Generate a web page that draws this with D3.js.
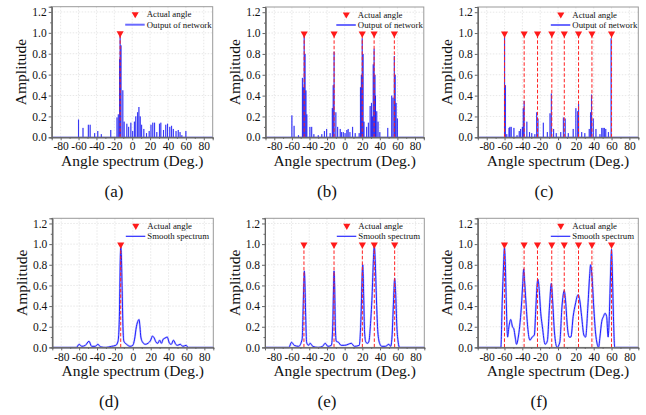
<!DOCTYPE html>
<html><head><meta charset="utf-8">
<script src="https://cdn.jsdelivr.net/npm/d3@7"></script>
<style>
html,body{margin:0;padding:0;background:#fff;}
svg{display:block;}
</style></head>
<body><svg id="chart" width="646" height="415"></svg>
<script>
const angleTicks = [-80,-60,-40,-20,0,20,40,60,80];
const ampTicks = [0,0.2,0.4,0.6,0.8,1.0,1.2];
const panelLabels = ["(a)","(b)","(c)","(d)","(e)","(f)"];
const legendActual = "Actual angle";
const legendNet = "Output of network";
const legendSmooth = "Smooth spectrum";

const actualA = [-13.5];
const actualB = [-46,-12,20,33.5,56.5];
const actualC = [-60,-38,-23,-7,7,23,38,60];

const netA = [[-60,0.17],[-55,0.09],[-49,0.12],[-47,0.12],[-42,0.04],[-38.5,0.06],[-34.5,0.03],[-24,0.07],[-17,0.19],[-15.5,0.22],[-14,0.75],[-13.5,1.0],[-12.5,0.88],[-10.5,0.45],[-9,0.15],[-6,0.13],[-4,0.1],[-1.5,0.14],[0.5,0.06],[2.5,0.15],[4,0.2],[6,0.24],[7.5,0.29],[9,0.2],[10.5,0.12],[13,0.08],[16,0.04],[19,0.06],[21,0.12],[23,0.14],[25,0.14],[27.5,0.05],[30.5,0.13],[32,0.14],[35,0.07],[37.5,0.12],[39.5,0.13],[42,0.1],[44,0.11],[46,0.08],[49,0.06],[51.5,0.07],[53.5,0.05],[55.5,0.02],[60,0.06]];

const netB = [[-60,0.21],[-57.5,0.11],[-52.5,0.02],[-48,0.57],[-47,0.48],[-46,1.0],[-45,0.8],[-44,0.45],[-43,0.22],[-39.5,0.1],[-37.5,0.1],[-35,0.03],[-30,0.02],[-26,0.03],[-23,0.06],[-20.5,0.08],[-16.5,0.04],[-14,0.28],[-13,0.5],[-12,0.82],[-10,0.24],[-8,0.1],[-5,0.08],[-3.5,0.05],[-1.5,0.05],[0.5,0.04],[2.5,0.07],[4,0.08],[6,0.05],[9,0.1],[12,0.04],[16.5,0.04],[18,0.48],[19,0.6],[20,0.95],[21,0.8],[22,0.15],[25,0.1],[27,0.14],[29,0.3],[30.5,0.33],[31.5,0.2],[32.5,0.7],[33.5,0.85],[34.5,0.6],[35,0.4],[36.5,0.25],[38,0.15],[40,0.05],[49,0.09],[53.5,0.4],[55,0.38],[56.5,0.78],[57.5,0.6],[58.5,0.33],[60,0.18]];

const netC = [[-60,1.0],[-59,0.5],[-57.5,0.03],[-55,0.09],[-54,0.1],[-52.5,0.1],[-49.5,0.09],[-46,0.02],[-43.5,0.06],[-42,0.08],[-40,0.1],[-39,0.28],[-38,0.35],[-35,0.15],[-32,0.05],[-29.5,0.04],[-26,0.03],[-24,0.24],[-22.5,0.18],[-16.5,0.14],[-12,0.05],[-9,0.23],[-7.5,0.42],[-5,0.08],[-2,0.04],[3,0.05],[6,0.19],[8,0.18],[11.5,0.04],[17,0.08],[20,0.28],[22,0.25],[23,0.32],[26.5,0.05],[30,0.04],[35,0.08],[36.5,0.24],[37.5,0.41],[39.5,0.18],[42.5,0.08],[47,0.03],[49,0.09],[50.5,0.09],[52,0.09],[53.5,0.08],[56.5,0.05],[59.5,0.95]];

const smoothD = [[-90,0],[-63,0],[-60,0.03],[-57,0.01],[-53,0.02],[-49,0.06],[-46,0.01],[-42,0.01],[-39,0.03],[-36,0.005],[-30,0],[-24,0.01],[-19,0.02],[-16.5,0.06],[-15,0.3],[-14,0.85],[-13.5,0.98],[-12.8,0.9],[-12,0.6],[-11,0.2],[-10,0.06],[-7,0.03],[-3,0.01],[0,0.02],[2,0.08],[4,0.2],[6,0.26],[7,0.27],[8,0.2],[9,0.1],[11,0.05],[14,0.03],[17,0.04],[20,0.07],[22,0.11],[24,0.09],[26,0.05],[28,0.04],[30,0.07],[32,0.04],[34,0.08],[36,0.09],[38.5,0.1],[41,0.04],[43,0.03],[45.5,0.07],[48,0.03],[50,0.02],[53,0.03],[56,0.01],[59.5,0.02],[62,0],[90,0]];

const smoothE = [[-90,0],[-63,0],[-60,0.05],[-57,0.02],[-52,0.01],[-48,0.08],[-47,0.35],[-46,0.65],[-45.5,0.74],[-45,0.65],[-44,0.3],[-43,0.05],[-41,0.02],[-39,0.04],[-36,0.01],[-30,0],[-25,0.01],[-22,0.04],[-19,0.01],[-15,0.02],[-13.5,0.2],[-12.5,0.6],[-12,0.74],[-11.3,0.6],[-10.5,0.2],[-9.5,0.06],[-7,0.05],[-4,0.02],[0,0.02],[4,0.03],[7.5,0.04],[11,0.01],[16.5,0.02],[18.5,0.3],[20,0.75],[20.5,0.8],[21.5,0.5],[22.5,0.15],[24,0.05],[26,0.04],[27.5,0.06],[29,0.2],[31,0.5],[32.5,0.85],[33.5,0.99],[34.5,0.85],[36,0.45],[37.5,0.15],[39.5,0.04],[42,0.01],[46,0.01],[50,0.03],[52,0.01],[53.5,0.1],[55,0.4],[56.5,0.67],[57.5,0.55],[59,0.2],[60.5,0.05],[62,0],[90,0]];

const smoothF = [[-90,0],[-64,0],[-62.5,0.45],[-61,0.8],[-60,0.97],[-59,0.8],[-58,0.45],[-56.5,0.1],[-55,0.2],[-53,0.27],[-51,0.2],[-49.5,0.18],[-48,0.1],[-46.5,0.03],[-44.5,0.1],[-43,0.2],[-41,0.4],[-39.5,0.62],[-38.5,0.76],[-37.5,0.65],[-36,0.45],[-34,0.2],[-31.5,0.07],[-29,0.1],[-26.5,0.12],[-25,0.35],[-23.5,0.6],[-22.5,0.66],[-21,0.55],[-19.5,0.35],[-17.5,0.2],[-14.5,0.03],[-12,0.06],[-9.5,0.4],[-7.5,0.62],[-6,0.45],[-4,0.15],[-1,0.0],[2,0.05],[4.5,0.4],[7,0.55],[8.5,0.45],[10.5,0.2],[12.5,0.1],[14.5,0.1],[17,0.3],[19.5,0.42],[22.5,0.51],[24.5,0.45],[26.5,0.3],[29,0.12],[31,0.1],[33.5,0.4],[35.5,0.7],[36.5,0.8],[38,0.7],[40,0.4],[42,0.15],[44,0.03],[45.5,0],[47,0.1],[49,0.25],[51,0.3],[52.7,0.33],[54.5,0.3],[56.2,0.1],[57.5,0.3],[59,0.75],[60,0.95],[61,0.7],[62.3,0.25],[63.5,0],[90,0]];

const FONT = "Liberation Serif, Tinos, Times New Roman, Times, DejaVu Serif, serif";

const panels = [
  {L:51.7, R:212.7, T:6.7, B:137.3, kind:"net", data:netA, actual:actualA, label:panelLabels[0], lx:114},
  {L:265.5, R:423.8, T:7, B:137.3, kind:"net", data:netB, actual:actualB, label:panelLabels[1], lx:327},
  {L:477.8, R:638.3, T:7, B:137.3, kind:"net", data:netC, actual:actualC, label:panelLabels[2], lx:544},
  {L:52.3, R:213.3, T:218.3, B:347.4, kind:"smooth", data:smoothD, actual:actualA, label:panelLabels[3], lx:109},
  {L:265, R:424.3, T:218.3, B:347.4, kind:"smooth", data:smoothE, actual:actualB, label:panelLabels[4], lx:327},
  {L:477.7, R:638.3, T:218.3, B:347.4, kind:"smooth", data:smoothF, actual:actualC, label:panelLabels[5], lx:539}
];

const svg = d3.select("#chart").attr("font-family", FONT);
const tri = d3.symbol().type(d3.symbolTriangle).size(22);
const txt = (sel, size) => sel.attr("font-family", FONT).attr("font-size", size).attr("fill", "#111");

panels.forEach(p => {
  const x = d3.scaleLinear().domain([-90,90]).range([p.L,p.R]);
  const y = d3.scaleLinear().domain([0,1.25]).range([p.B,p.T]);
  const g = svg.append("g");

  // grid
  g.append("g").selectAll("line").data(angleTicks).join("line")
    .attr("x1", d=>x(d)).attr("x2", d=>x(d)).attr("y1", p.T).attr("y2", p.B)
    .attr("stroke","#d8d8d8").attr("stroke-width",0.6).attr("stroke-dasharray","1.5,1.5");
  g.append("g").selectAll("line").data(ampTicks.filter(d=>d>0)).join("line")
    .attr("x1", p.L).attr("x2", p.R).attr("y1", d=>y(d)).attr("y2", d=>y(d))
    .attr("stroke","#d8d8d8").attr("stroke-width",0.6).attr("stroke-dasharray","1.5,1.5");

  // data
  if (p.kind === "net") {
    g.append("line").attr("x1",x(-90)).attr("x2",x(90)).attr("y1",y(0)).attr("y2",y(0))
      .attr("stroke","#2a2aff").attr("stroke-width",1.2);
    g.append("g").selectAll("rect").data(p.data).join("rect")
      .attr("x", d=>x(d[0]-0.7)).attr("width", x(1.4)-x(0))
      .attr("y", d=>y(d[1])).attr("height", d=>y(0)-y(d[1]))
      .attr("fill","#5a5aff").attr("fill-opacity",0.55);
    g.append("g").selectAll("line").data(p.data).join("line")
      .attr("x1", d=>x(d[0])).attr("x2", d=>x(d[0])).attr("y1", y(0)).attr("y2", d=>y(d[1]))
      .attr("stroke","#0000ee").attr("stroke-width",0.8).attr("stroke-opacity",0.85);
  } else {
    const line = d3.line().x(d=>x(d[0])).y(d=>y(d[1])).curve(d3.curveMonotoneX);
    g.append("path").datum(p.data).attr("d",line).attr("fill","none")
      .attr("stroke","#8888ff").attr("stroke-width",2).attr("stroke-opacity",0.5);
    g.append("path").datum(p.data).attr("d",line).attr("fill","none")
      .attr("stroke","#1e1eff").attr("stroke-width",1);
  }

  // actual angle dashed lines and markers
  g.append("g").selectAll("line").data(p.actual).join("line")
    .attr("x1", d=>x(d)).attr("x2", d=>x(d)).attr("y1", y(0)).attr("y2", y(1))
    .attr("stroke","#ff2020").attr("stroke-width",1).attr("stroke-dasharray","3.5,2");
  g.append("g").selectAll("path").data(p.actual).join("path")
    .attr("d", tri).attr("fill","#ff1a1a")
    .attr("transform", d=>`translate(${x(d)},${y(1)+0.5}) rotate(180)`);

  // frame
  g.append("rect").attr("x",p.L).attr("y",p.T).attr("width",p.R-p.L).attr("height",p.B-p.T)
    .attr("fill","none").attr("stroke","#999").attr("stroke-width",1);

  // axes
  const xAxis = d3.axisBottom(x).tickValues(angleTicks).tickSize(3).tickPadding(2).tickFormat(d => String(d));
  const xa = g.append("g").attr("transform",`translate(0,${p.B})`).call(xAxis);
  const xMinor = g.append("g").attr("transform",`translate(0,${p.B})`)
    .call(d3.axisBottom(x).tickValues(d3.range(-90,91,10).filter(v=>v%20!==0)).tickSize(1.5).tickFormat(""));
  const yAxis = d3.axisLeft(y).tickValues(ampTicks).tickSize(3).tickPadding(2).tickFormat(d3.format(".1f"));
  const ya = g.append("g").attr("transform",`translate(${p.L},0)`).call(yAxis);
  const yMinor = g.append("g").attr("transform",`translate(${p.L},0)`)
    .call(d3.axisLeft(y).tickValues([0.1,0.3,0.5,0.7,0.9,1.1]).tickSize(1.5).tickFormat(""));
  [xa,ya,xMinor,yMinor].forEach(a=>{
    a.attr("font-family", FONT).attr("font-size", 11.5);
    a.select(".domain").attr("stroke","#666");
    a.selectAll(".tick line").attr("stroke","#666");
    a.selectAll("text").call(txt, 11.5);
  });

  // titles
  svg.append("text").attr("x",(p.L+p.R)/2).attr("y",p.B+29).attr("text-anchor","middle")
    .call(txt, 15.5).text("Angle spectrum (Deg.)");
  svg.append("text").attr("transform",`translate(${p.L-25.5},${(p.T+p.B)/2}) rotate(-90)`)
    .attr("text-anchor","middle").call(txt, 15.5).text("Amplitude");
  svg.append("text").attr("x",p.lx).attr("y",p.B+60).attr("text-anchor","middle")
    .call(txt, 17).text(p.label);

  // legend
  const lg = svg.append("g");
  const r1 = p.T + 7.5, r2 = p.T + 18;
  lg.append("path").attr("d",tri).attr("fill","#ff1a1a")
    .attr("transform",`translate(${p.R-77.5},${r1}) rotate(180)`);
  lg.append("text").attr("x",p.R-66).attr("y",r1+3).call(txt, 8.8).text(legendActual);
  lg.append("line").attr("x1",p.R-87.5).attr("x2",p.R-68).attr("y1",r2).attr("y2",r2)
    .attr("stroke", p.kind==="net" ? "#6a6aff" : "#2a2aff").attr("stroke-width", p.kind==="net"?2:1.2);
  lg.append("text").attr("x",p.R-66).attr("y",r2+3).call(txt, 8.8)
    .text(p.kind==="net" ? legendNet : legendSmooth);
});
</script></body></html>
